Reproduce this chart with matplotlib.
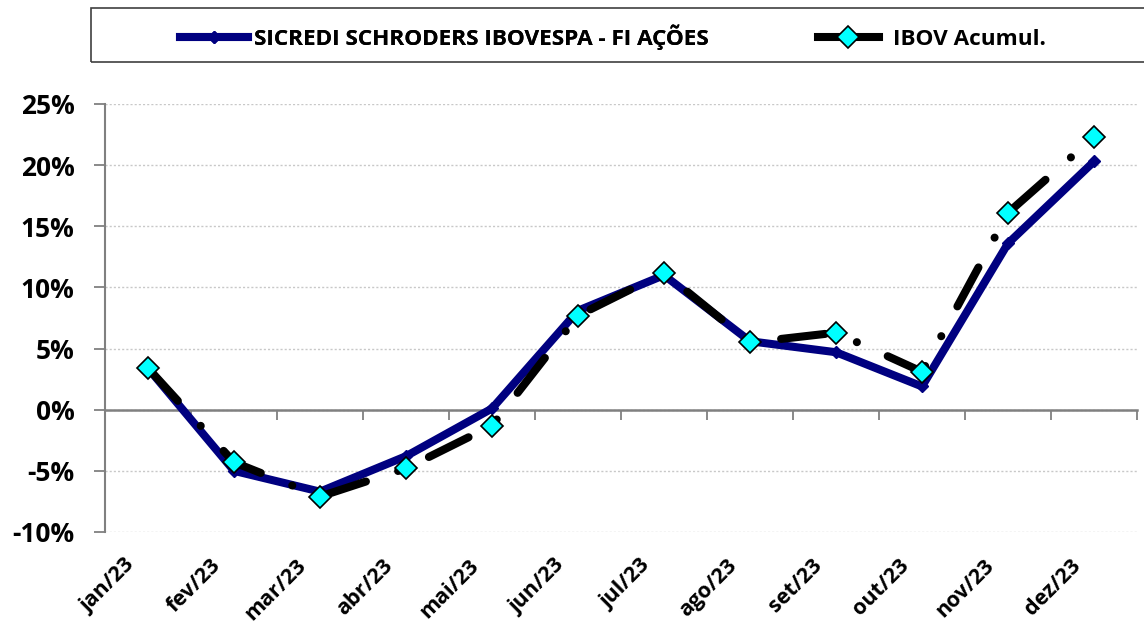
import numpy as np
import matplotlib.pyplot as plt
from matplotlib.lines import Line2D
from matplotlib.patches import Rectangle
import matplotlib.transforms as mtransforms
from matplotlib.ticker import FuncFormatter, FixedLocator

plt.rcParams['font.family'] = ['Open Sans', 'DejaVu Sans']
plt.rcParams['font.weight'] = 'bold'

meses = ['jan/23', 'fev/23', 'mar/23', 'abr/23', 'mai/23', 'jun/23',
         'jul/23', 'ago/23', 'set/23', 'out/23', 'nov/23', 'dez/23']
fundo = [3.4, -5.0, -6.7, -3.8, 0.1, 8.1, 11.0, 5.6, 4.7, 1.9, 13.6, 20.3]
ibov = [3.4, -4.3, -7.1, -4.8, -1.3, 7.7, 11.2, 5.5, 6.3, 3.1, 16.1, 22.3]
nome_fundo = 'SICREDI SCHRODERS IBOVESPA - FI AÇÕES'
nome_ibov = 'IBOV Acumul.'

W, H = 1144, 623
fig = plt.figure(figsize=(W / 100, H / 100), dpi=100)
ax = fig.add_axes([105 / W, 1 - 532 / H, (1137 - 105) / W, (532 - 104) / H])

x = np.arange(len(meses))
ax.plot(x, fundo, color='#000080', lw=5.8, marker='D', ms=6,
        mfc='#000080', mec='#000080', solid_joinstyle='miter', zorder=3)
ax.plot(x, ibov, color='black', lw=5.8, ls=(0, (5.5, 4.2, 0.01, 4.2)),
        dash_capstyle='round', zorder=4)
ax.plot(x, ibov, ls='none', marker='D', ms=11.5, mfc='#00FFFF',
        mec='black', mew=1.2, zorder=5)

ax.set_xlim(-0.5, len(meses) - 0.5)
ax.set_ylim(-10, 25)
ax.set_yticks(np.arange(-10, 26, 5))
ax.yaxis.set_major_formatter(FuncFormatter(lambda v, p: f'{v:.0f}%'))
ax.tick_params(axis='y', length=8, width=1.3, color='#808080', pad=14,
               labelsize=19)
for lb in ax.get_yticklabels():
    lb.set_fontweight('bold')
ax.grid(axis='y', ls=(0, (1.5, 1.5)), color='#C8C8C8', lw=1)
ax.set_axisbelow(True)

for s in ['top', 'right']:
    ax.spines[s].set_visible(False)
ax.spines['left'].set_color('#808080')
ax.spines['left'].set_linewidth(1.5)
ax.spines['bottom'].set_position(('data', 0))
ax.spines['bottom'].set_color('#808080')
ax.spines['bottom'].set_linewidth(1.8)

# ticks on the zero line sit between the months
ax.xaxis.set_major_locator(FixedLocator(np.arange(-0.5, len(meses), 1.0)))
ax.tick_params(axis='x', length=7, width=1.3, color='#808080',
               labelbottom=False)

# month labels along the bottom of the plot
off = mtransforms.ScaledTranslation(-24 / 100, -23 / 100, fig.dpi_scale_trans)
tr = mtransforms.blended_transform_factory(ax.transData, ax.transAxes) + off
for i, m in enumerate(meses):
    ax.text(i, 0, m, transform=tr, rotation=45, rotation_mode='anchor',
            ha='right', va='top', fontsize=15.5, fontweight='bold')

# legend box across the top
fig.patches.append(Rectangle((91 / W, 1 - 62 / H), 1.2, 54 / H,
                             transform=fig.transFigure, fill=False,
                             edgecolor='#404040', lw=1.2))
h_fundo = Line2D([], [], color='#000080', lw=5.8, marker='D', ms=6,
                 mfc='#000080', mec='#000080')
h_ibov = Line2D([], [], color='black', lw=5.8, marker='D', ms=11,
                mfc='#00FFFF', mec='black', mew=1.2)
leg_kw = dict(loc='lower left', frameon=False, borderpad=0,
              borderaxespad=0, prop={'size': 16.2, 'weight': 'bold'})
leg1 = fig.legend([h_fundo], [nome_fundo], bbox_to_anchor=(180 / W, 1 - 50 / H),
                  handlelength=3.0, handletextpad=0.28, **leg_kw)
fig.legend([h_ibov], [nome_ibov], bbox_to_anchor=(818 / W, 1 - 50 / H),
           handlelength=2.7, handletextpad=0.65, **leg_kw)
fig.add_artist(leg1)

fig.savefig('out.png', dpi=100)
